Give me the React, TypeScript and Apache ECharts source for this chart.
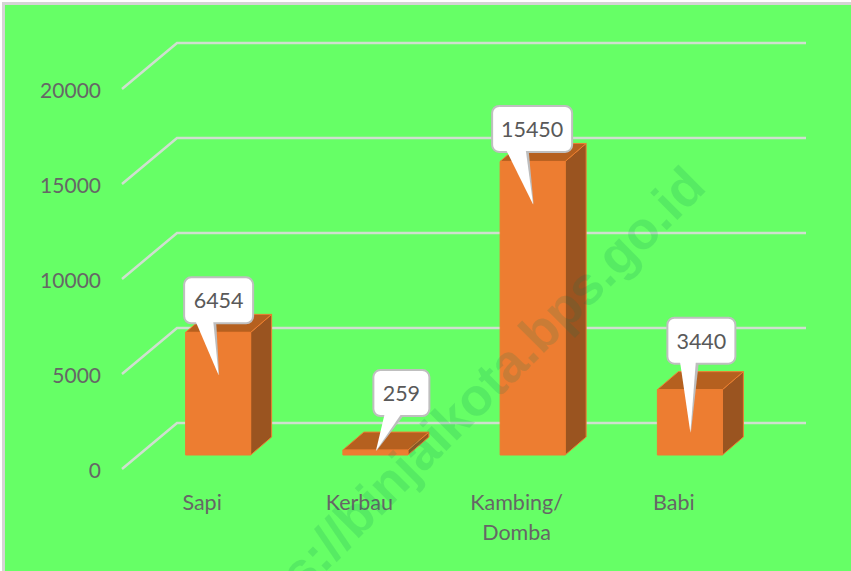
import React, { useEffect, useRef } from "react";
import * as echarts from "echarts";

const categories = ["Sapi", "Kerbau", "Kambing/\nDomba", "Babi"];
const populationValues = [6454, 259, 15450, 3440];
const gridValues = [0, 5000, 10000, 15000, 20000];
const watermarkText = "https://binjaikota.bps.go.id";

// Callout placement relative to the top-centre of each bar's front face
const calloutOffsets = [
  { dx: 0.5, gap: 9, w: 69 },
  { dx: 26, gap: 34, w: 56 },
  { dx: -0.5, gap: 9.5, w: 80 },
  { dx: 11.5, gap: 26, w: 68 },
];
const tailBase = [
  [-23, -5],
  [9.5, 26.5],
  [-27, -7],
  [-10, 6],
];

const FONT = "Lato";
const FRONT = "#ED7D31";
const SIDE = "#9A5420";
const TOP = "#B5601F";
const GRID = "#CFDFCF";
const BAR_SHIFT_X = 16;
const BAR_SHIFT_Y = -14;
const BAR_W = 65;
const DEPTH_X = 21;
const DEPTH_Y = -18;

function barGeometry(api: any) {
  const i = api.value(0);
  const v = api.value(1);
  const base = api.coord([i, 0]);
  const top = api.coord([i, v]);
  const cx = base[0] + BAR_SHIFT_X;
  return { i, v, cx, yBase: base[1] + BAR_SHIFT_Y, yTop: top[1] + BAR_SHIFT_Y };
}

export default function App() {
  const ref = useRef<HTMLDivElement>(null);
  useEffect(() => {
    document.body.style.margin = "0";
    const chart = echarts.init(ref.current!, undefined, { renderer: "svg" });
    chart.setOption({
      animation: false,
      backgroundColor: "#FFFFFF",
      textStyle: { fontFamily: FONT },
      grid: { left: 123.5, top: 89, width: 629, height: 380 },
      xAxis: {
        type: "category",
        data: categories,
        axisLine: { show: false },
        axisTick: { show: false },
        splitLine: { show: false },
        axisLabel: {
          color: "#666666",
          fontFamily: FONT,
          fontSize: 21.5,
          lineHeight: 30,
          margin: 18,
          interval: 0,
        },
      },
      yAxis: {
        type: "value",
        min: 0,
        max: 20000,
        interval: 5000,
        axisLine: { show: false },
        axisTick: { show: false },
        splitLine: { show: false },
        axisLabel: {
          color: "#666666",
          fontFamily: FONT,
          fontSize: 21,
          margin: 22.5,
          padding: [0, 0, 2, 0],
          formatter: (v: number) => String(v),
        },
      },
      series: [
        {
          type: "custom",
          name: "grid",
          z: 1,
          silent: true,
          encode: { x: 0, y: 1 },
          data: gridValues.map((v) => [0, v]),
          renderItem: (params: any, api: any) => {
            const y = api.coord([0, api.value(1)])[1];
            const x0 = params.coordSys.x - 1.5;
            return {
              type: "polyline",
              shape: {
                points: [
                  [x0, y],
                  [x0 + 55, y - 46],
                  [806, y - 46],
                ],
              },
              style: { stroke: GRID, lineWidth: 2.5, fill: "none" },
            };
          },
        },
        {
          type: "custom",
          name: "bars",
          z: 2,
          silent: true,
          encode: { x: 0, y: 1 },
          data: populationValues.map((v, i) => [i, v]),
          renderItem: (_p: any, api: any) => {
            const g = barGeometry(api);
            const l = g.cx - BAR_W / 2;
            const r = g.cx + BAR_W / 2;
            const edge = { stroke: FRONT, lineWidth: 1, lineJoin: "round" };
            return {
              type: "group",
              children: [
                {
                  type: "polygon",
                  shape: {
                    points: [
                      [r, g.yTop],
                      [r + DEPTH_X, g.yTop + DEPTH_Y],
                      [r + DEPTH_X, g.yBase + DEPTH_Y],
                      [r, g.yBase],
                    ],
                  },
                  style: { fill: SIDE, ...edge },
                },
                {
                  type: "polygon",
                  shape: {
                    points: [
                      [l, g.yTop],
                      [l + DEPTH_X, g.yTop + DEPTH_Y],
                      [r + DEPTH_X, g.yTop + DEPTH_Y],
                      [r, g.yTop],
                    ],
                  },
                  style: { fill: TOP, ...edge },
                },
                {
                  type: "rect",
                  shape: { x: l, y: g.yTop, width: BAR_W, height: g.yBase - g.yTop },
                  style: { fill: FRONT, ...edge },
                },
              ],
            };
          },
        },
        {
          type: "custom",
          name: "callouts",
          z: 3,
          silent: true,
          encode: { x: 0, y: 1 },
          data: populationValues.map((v, i) => [i, v]),
          renderItem: (_p: any, api: any) => {
            const g = barGeometry(api);
            const o = calloutOffsets[g.i];
            const H = 46;
            const boxBottom = g.yTop - o.gap;
            const boxTop = boxBottom - H;
            const boxCx = g.cx + o.dx;
            const tipX = g.cx + 0.5;
            const tipY = Math.min(g.yTop + 43, g.yBase - 4);
            const [b0, b1] = tailBase[g.i];
            const tail = [
              [g.cx + b0, boxBottom - 3],
              [tipX, tipY],
              [g.cx + b1, boxBottom - 3],
            ];
            return {
              type: "group",
              children: [
                {
                  type: "polygon",
                  shape: {
                    points: [
                      [g.cx + b0 + 3, boxBottom - 2],
                      [tipX + 0.5, tipY],
                      [g.cx + b1 + 3, boxBottom - 2],
                    ],
                  },
                  style: { fill: "#BDBDBD" },
                },
                {
                  type: "rect",
                  shape: { x: boxCx - o.w / 2, y: boxTop, width: o.w, height: H, r: 7 },
                  style: { fill: "#FFFFFF", stroke: "#BFBFBF", lineWidth: 2 },
                },
                {
                  type: "polygon",
                  shape: { points: tail },
                  style: { fill: "#FFFFFF" },
                },
                {
                  type: "text",
                  style: {
                    text: String(g.v),
                    x: boxCx,
                    y: boxTop + H / 2,
                    align: "center",
                    verticalAlign: "middle",
                    fontFamily: FONT,
                    fontSize: 21.5,
                    fill: "#595959",
                  },
                },
              ],
            };
          },
        },
      ],
      graphic: [
        {
          type: "rect",
          z: -20,
          silent: true,
          shape: { x: 2, y: 2, width: 849, height: 569 },
          style: { fill: "#D4D4D4" },
        },
        {
          type: "rect",
          z: -19,
          silent: true,
          shape: { x: 5, y: 5, width: 846, height: 566 },
          style: { fill: "#66FF66" },
        },
        {
          type: "text",
          z: 100,
          silent: true,
          x: 695,
          y: 176,
          rotation: Math.PI / 4,
          style: {
            text: watermarkText,
            align: "right",
            verticalAlign: "middle",
            fontFamily: "Liberation Sans",
            fontWeight: "bold",
            fontSize: 53,
            fill: "rgba(0,120,90,0.15)",
          },
        },
      ],
    });
    return () => chart.dispose();
  }, []);
  return (
    <div
      ref={ref}
      style={{ position: "fixed", left: 0, top: 0, width: 851, height: 571 }}
    />
  );
}
